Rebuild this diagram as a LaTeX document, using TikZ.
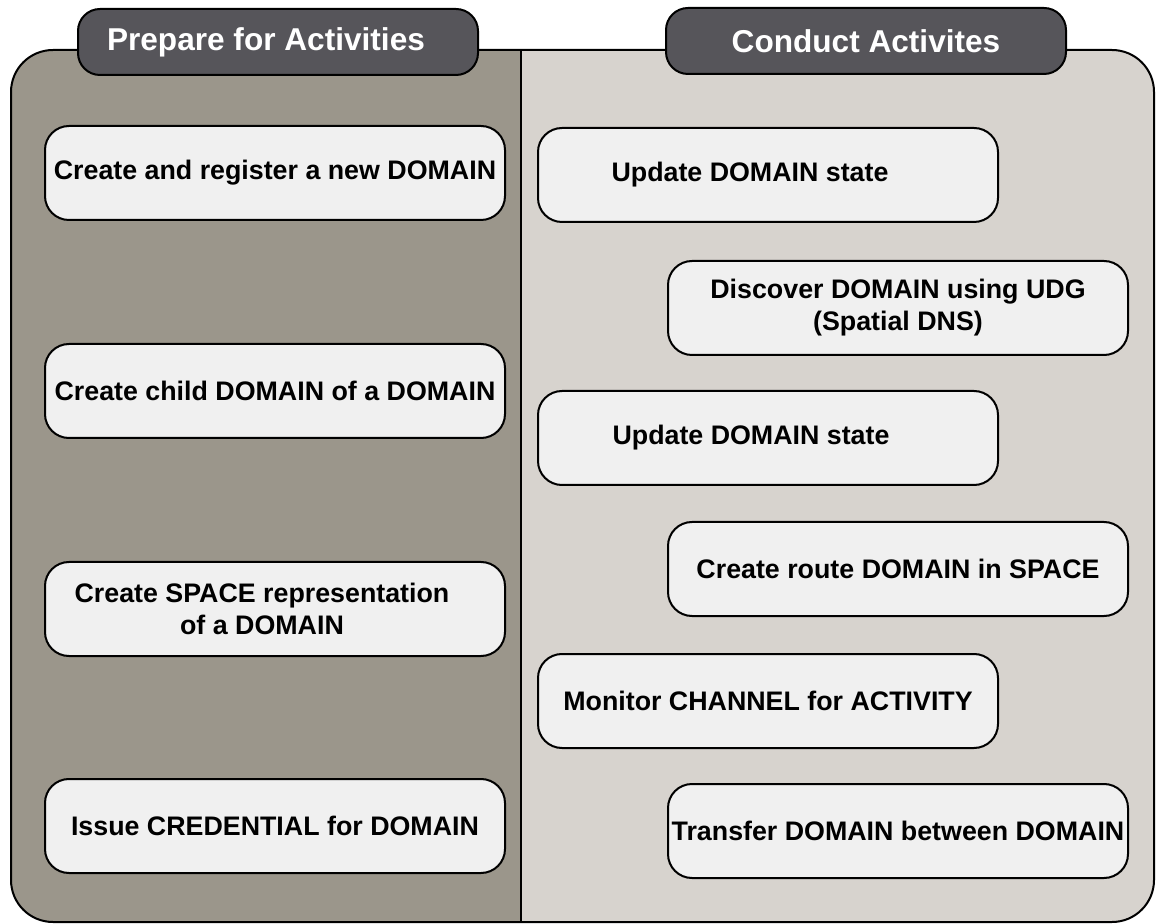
\documentclass[tikz,border=0pt]{standalone}
\usepackage{fontspec}
\setmainfont{Liberation Sans}
\definecolor{prepfill}{HTML}{9B968B}
\definecolor{condfill}{HTML}{D7D3CE}
\definecolor{tabfill}{HTML}{56555A}
\definecolor{taskfill}{HTML}{F0F0F0}
\tikzset{
  task/.style={draw, line width=1pt, fill=taskfill, rounded corners=12pt,
    minimum width=230pt, minimum height=47pt, inner xsep=1pt, align=center,
    font=\fontsize{13.4}{16}\selectfont\bfseries},
  tab/.style={draw, line width=1pt, fill=tabfill, rounded corners=11pt,
    minimum width=200pt, minimum height=33pt, text=white,
    font=\fontsize{15.8}{19}\selectfont\bfseries}
}
\begin{document}
\begin{tikzpicture}[x=0.5pt, y=-0.5pt]
  \useasboundingbox (0,0) rectangle (1156,924);
  % panels
  \fill[condfill, rounded corners=21pt] (11,50) rectangle (1154,922);
  \begin{scope}
    \clip (0,0) rectangle (521,924);
    \fill[prepfill, rounded corners=21pt] (11,50) rectangle (1154,922);
  \end{scope}
  \draw[line width=1pt, rounded corners=21pt] (11,50) rectangle (1154,922);
  \draw[line width=1pt] (521,50) -- (521,922);
  % headers
  \node[tab] (prep) at (278,42) {Prepare for Activities\hspace*{12pt}};
  \node[tab] (cond) at (866,41) {Conduct Activites};
  % prepare tasks
  \node[task] (register) at (275,173) {Create and register a new DOMAIN};
  \node[task] (child)    at (275,391) {Create child DOMAIN of a DOMAIN};
  \node[task] (space)    at (275,609) {Create SPACE representation\hspace*{13pt}\\ of a DOMAIN\hspace*{13pt}};
  \node[task] (issue)    at (275,826) {Issue CREDENTIAL for DOMAIN};
  % conduct tasks
  \node[task] (update1)  at (768,175) {Update DOMAIN state\hspace*{18pt}};
  \node[task] (discover) at (898,308) {Discover DOMAIN using UDG\\(Spatial DNS)};
  \node[task] (update2)  at (768,438) {Update DOMAIN state\hspace*{17pt}};
  \node[task] (route)    at (898,569) {Create route DOMAIN in SPACE};
  \node[task] (monitor)  at (768,701) {Monitor CHANNEL for ACTIVITY};
  \node[task] (transfer) at (898,831) {Transfer DOMAIN between DOMAIN};
\end{tikzpicture}
\end{document}
